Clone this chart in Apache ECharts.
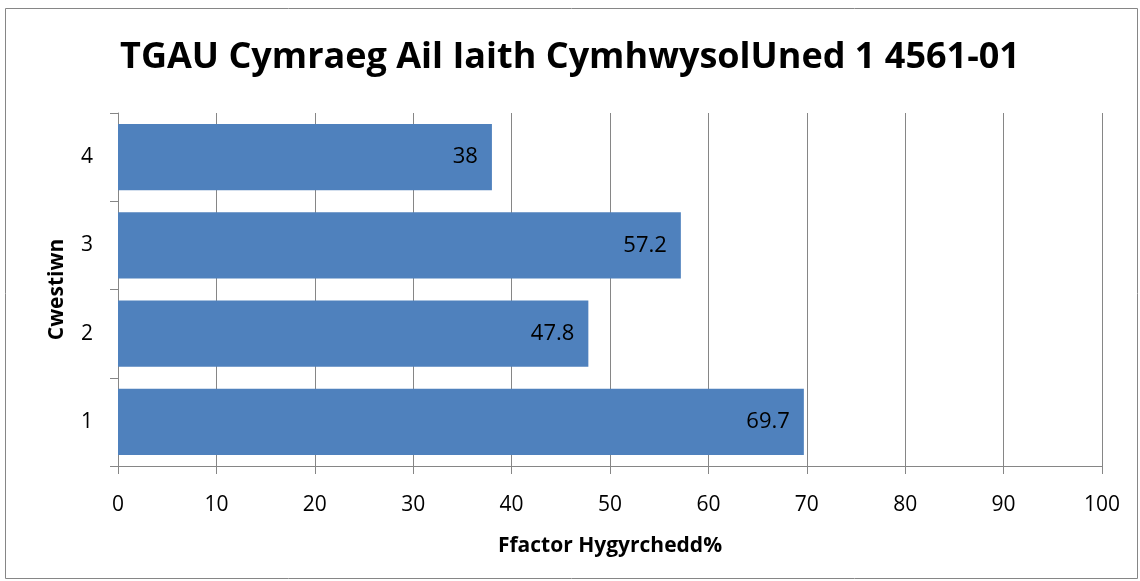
<!DOCTYPE html>
<html>
<head>
<meta charset="utf-8">
<script src="https://cdn.jsdelivr.net/npm/echarts@6/dist/echarts.min.js"></script>
<style>
  html, body { margin: 0; padding: 0; background: #fff; }
  #chart { width: 1140px; height: 581px; }
</style>
</head>
<body>
<div id="chart"></div>
<script>
// question numbers, bottom to top
const questions = ['1', '2', '3', '4'];
// accessibility factor %
const facility = [69.7, 47.8, 57.2, 38];

const chartTitle = 'TGAU Cymraeg Ail Iaith CymhwysolUned 1 4561-01';
const xName = 'Ffactor Hygyrchedd%';
const yName = 'Cwestiwn';

const font = '"Open Sans", "Noto Sans", sans-serif';
const gray = '#868686';

var chart = echarts.init(document.getElementById('chart'));
chart.setOption({
    animation: false,
    backgroundColor: '#fff',
    graphic: [{
        type: 'rect',
        shape: { x: 5.5, y: 8.5, width: 1132, height: 570 },
        style: { fill: 'none', stroke: gray, lineWidth: 1 },
        silent: true
    }],
    title: {
        text: chartTitle,
        left: 'center',
        top: 35,
        textStyle: { fontFamily: font, fontSize: 36, fontWeight: 'bold', color: '#000' }
    },
    grid: { left: 118, right: 38, top: 113, bottom: 115 },
    xAxis: {
        type: 'value',
        min: 0,
        max: 100,
        interval: 10,
        name: xName,
        nameLocation: 'middle',
        nameGap: 70,
        nameTextStyle: { fontFamily: font, fontSize: 21, fontWeight: 'bold', color: '#000' },
        axisLine: { show: true, lineStyle: { color: gray } },
        axisTick: { show: true, length: 8, lineStyle: { color: gray } },
        axisLabel: { fontFamily: font, fontSize: 21, color: '#000', margin: 29 },
        splitLine: { show: true, lineStyle: { color: gray, width: 1 } }
    },
    yAxis: {
        type: 'category',
        data: questions,
        name: yName,
        nameLocation: 'middle',
        nameGap: 50,
        nameTextStyle: { fontFamily: font, fontSize: 21, fontWeight: 'bold', color: '#000' },
        axisLine: { show: true, lineStyle: { color: gray } },
        axisTick: { show: true, length: 8, lineStyle: { color: gray } },
        axisLabel: { fontFamily: font, fontSize: 21, color: '#000', margin: 25 },
        splitLine: { show: false }
    },
    series: [{
        type: 'bar',
        data: facility,
        barCategoryGap: '25%',
        itemStyle: { color: '#4f81bd' },
        label: {
            show: true,
            position: 'insideRight',
            distance: 14,
            fontFamily: font,
            fontSize: 22,
            color: '#000'
        }
    }]
});
</script>
</body>
</html>
